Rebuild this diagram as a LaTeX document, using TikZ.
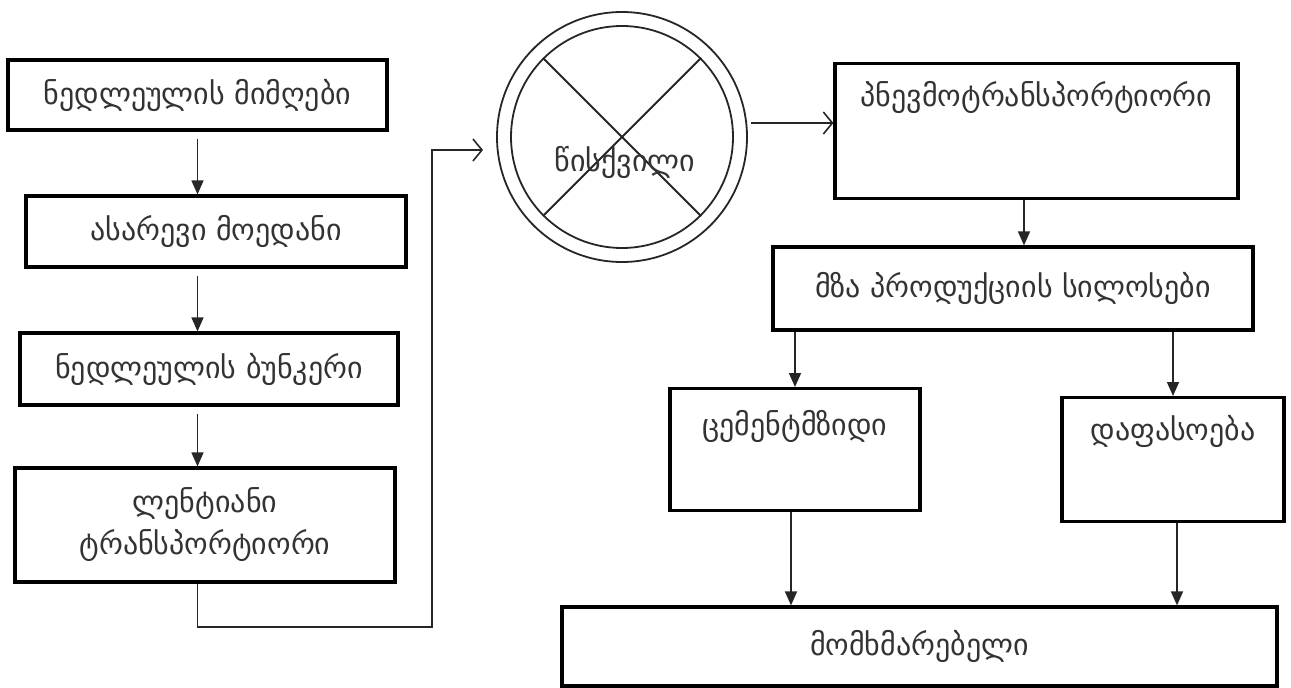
\documentclass[tikz,border=0pt]{standalone}
\usepackage{fontspec}
\setmainfont{DejaVu Sans}
\usepackage{tikz}
\usetikzlibrary{arrows.meta,positioning}

\begin{document}
\begin{tikzpicture}[
    % styles
    x=1pt, y=-1pt,
    font=\fontsize{30}{36}\selectfont,
    stage/.style={draw=black, line width=3.2pt, inner sep=0pt, text=black!80},
    top stage/.style={stage, anchor=north, minimum height=0pt},
    flow/.style={draw=black!85, line width=1.6pt, -{Triangle[length=14pt,width=12pt]}},
    open flow/.style={draw=black!85, line width=1.6pt, -{Straight Barb[length=9pt,width=22pt,line width=1.6pt]}},
    mill/.style={circle, draw=black!85, line width=1.8pt, inner sep=0pt}
]
    \useasboundingbox (0,0) rectangle (1291,688);

    % --- 1. left column ---
    \node[stage, minimum width=379, minimum height=70] (B1) at (197.5,95) {ნედლეულის მიმღები};
    \node[stage, minimum width=380, minimum height=71] (B2) at (216,231.5) {ასარევი მოედანი};
    \node[stage, minimum width=378, minimum height=72] (B3) at (209,369) {ნედლეულის ბუნკერი};
    \node[stage, minimum width=380, minimum height=114, align=center,
          font=\fontsize{30}{42}\selectfont] (B4) at (205,525) {ლენტიანი\\ტრანსპორტიორი};

    % --- 2. mill ---
    \node[mill, minimum size=250] (M) at (622,137) {};
    \node[mill, minimum size=222] (Min) at (622,137) {};
    \draw[draw=black!85, line width=1.8pt] (Min.north west) -- (Min.south east)
        (Min.north east) -- (Min.south west);
    \node[text=black!80] (Mname) at (625,162) {წისქვილი};

    % --- 3. right part ---
    \node[top stage, minimum width=403, text height=43pt, text depth=92pt] (B6) at (1036.5,62) {პნევმოტრანსპორტიორი};
    \node[stage, minimum width=480, minimum height=83] (B7) at (1013,288.5) {მზა პროდუქციის სილოსები};
    \node[top stage, minimum width=250, text height=47pt, text depth=75pt] (B8) at (795,387) {ცემენტმზიდი};
    \node[top stage, minimum width=222, text height=43pt, text depth=81pt] (B9) at (1173,396) {დაფასოება};
    \node[stage, minimum width=715, minimum height=79] (B10) at (919.5,646.5) {მომხმარებელი};

    % --- 4. connectors ---
    \coordinate (turn) at (432,627);
    \coordinate (M-in) at (483,150);
    \coordinate (M-out) at (751,123);

    \foreach \source / \dest in {B1/B2, B2/B3, B3/B4}
        \draw[flow, shorten <=7pt] (\source.south -| B1.south) -- (\dest.north -| B1.south);

    \draw[open flow] (B4.south -| B1.south) |- (turn) |- (M-in);
    \draw[open flow] (M-out) -- (M-out -| B6.west);

    \draw[flow] ([xshift=-12.5pt]B6.south) -- ([xshift=-12.5pt]B6.south |- B7.north);
    \draw[flow] (B8.north |- B7.south) -- (B8.north);
    \draw[flow] (B9.north |- B7.south) -- (B9.north);
    \draw[flow] ([xshift=-4pt]B8.south) -- ([xshift=-4pt]B8.south |- B10.north);
    \draw[flow] ([xshift=4pt]B9.south) -- ([xshift=4pt]B9.south |- B10.north);

\end{tikzpicture}
\end{document}
